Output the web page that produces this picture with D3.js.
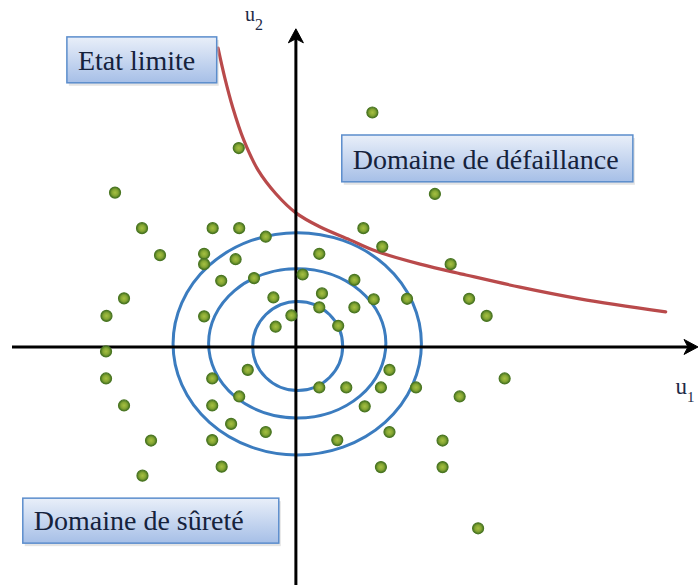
<!DOCTYPE html>
<html>
<head>
<meta charset="utf-8">
<script src="https://cdn.jsdelivr.net/npm/d3@7"></script>
<style>
    body { margin: 0; background: #fff; }
    svg { display: block; }
</style>
</head>
<body>
<div id="chart"></div>
<script>
///// DONNÉES (espace normé u1, u2) /////
let dotU1 = [1.70, -1.27, 3.09, -4.02, -3.42, -1.85, -1.26, 1.50, -0.67, -3.02,
    -2.04, -2.04, -1.34, 0.52, 1.92, 3.44, 0.15, -0.93, 1.30, -1.66,
    -3.82, -0.50, 0.58, 1.73, 2.47, 3.85, -4.21, -2.04, -0.10, 0.52,
    1.30, 4.24, -0.45, 0.94, -4.22, -4.22, -1.86, -1.07, 0.52, 1.12,
    1.89, 2.08, 2.67, 4.64, -3.82, -1.86, -1.26, 1.53, 3.64, -3.22,
    -1.86, -1.44, -0.67, 0.92, 2.08, 3.26, -3.41, -1.65, 1.89, 3.26, 4.05];
let dotU2 = [5.21, 4.42, 3.40, 3.43, 2.64, 2.64, 2.64, 2.64, 2.45, 2.04,
    2.07, 1.84, 1.95, 2.07, 2.23, 1.84, 1.61, 1.53, 1.49, 1.47,
    1.08, 1.10, 1.19, 1.06, 1.07, 1.07, 0.69, 0.68, 0.70, 0.88,
    0.88, 0.69, 0.45, 0.47, -0.10, -0.70, -0.70, -0.51, -0.90, -0.90,
    -0.90, -0.51, -0.90, -0.70, -1.30, -1.30, -1.10, -1.32, -1.10, -2.08,
    -2.07, -1.71, -1.89, -2.07, -1.89, -2.08, -2.86, -2.66, -2.67, -2.67, -4.03];

//Etat limite G(u) = 0
let limitU1 = [-1.73, -1.58, -1.40, -1.16, -0.84, -0.44, 0, 0.53, 1.20, 1.78, 2.76, 3.78, 4.98, 6.31, 8.22];
let limitU2 = [6.64, 5.98, 5.31, 4.60, 3.93, 3.40, 2.98, 2.67, 2.38, 2.13, 1.84, 1.60, 1.33, 1.07, 0.78];

//Cercles d'iso-densité
let ringCx = [0.04, 0.03, 0.03];
let ringCy = [0.02, 0.08, 0.07];
let ringRx = [1.00, 1.97, 2.76];
let ringRy = [0.99, 1.66, 2.47];

//Étiquettes (boîtes en coordonnées u)
let noteText = ['Etat limite', 'Domaine de défaillance', 'Domaine de sûreté'];
let noteU1 = [[-5.09, -1.76], [1.02, 7.49], [-6.07, -0.38]];
let noteU2 = [[6.89, 5.87], [4.71, 3.67], [-3.36, -4.36]];

///// GRÁFICO /////
let width = 699, height = 585;

let svg = d3.select('#chart')
    .append('svg')
    .attr('width', width)
    .attr('height', height);

let x_c = d3.scaleLinear().domain([-6.31, 8.96]).range([12, 699]);
let y_c = d3.scaleLinear().domain([-5.29, 7.71]).range([585, 0]);

let defs = svg.append('defs');
let grad = defs.append('linearGradient')
    .attr('id', 'boxGrad')
    .attr('x1', 0).attr('y1', 0).attr('x2', 0).attr('y2', 1);
grad.append('stop').attr('offset', '0%').attr('stop-color', '#e9eff9');
grad.append('stop').attr('offset', '100%').attr('stop-color', '#a6bfe7');

let dotGrad = defs.append('radialGradient').attr('id', 'dotGrad');
dotGrad.append('stop').attr('offset', '0%').attr('stop-color', '#a6c042');
dotGrad.append('stop').attr('offset', '55%').attr('stop-color', '#86a733');
dotGrad.append('stop').attr('offset', '100%').attr('stop-color', '#4b7622');

//Cercles
svg.append('g')
    .selectAll('ellipse')
    .data(ringRx)
    .enter()
    .append('ellipse')
    .attr('cx', function(d, i) { return x_c(ringCx[i]); })
    .attr('cy', function(d, i) { return y_c(ringCy[i]); })
    .attr('rx', function(d) { return x_c(d) - x_c(0); })
    .attr('ry', function(d, i) { return y_c(0) - y_c(ringRy[i]); })
    .attr('fill', 'none')
    .attr('stroke', '#3b7cbf')
    .attr('stroke-width', 3);

//Etat limite
let limitLine = d3.line()
    .x(function(d) { return x_c(d[0]); })
    .y(function(d) { return y_c(d[1]); })
    .curve(d3.curveCatmullRom.alpha(0.5));

svg.append('path')
    .datum(d3.zip(limitU1, limitU2))
    .attr('d', limitLine)
    .attr('fill', 'none')
    .attr('stroke', '#b94a4b')
    .attr('stroke-width', 3.2)
    .attr('stroke-linecap', 'round');

//Ejes
let x0 = x_c(0), y0 = y_c(0);
let xEnd = x_c(8.96), yEnd = y_c(7.07);
let axes = svg.append('g');

axes.append('line')
    .attr('x1', x_c(-6.31)).attr('x2', xEnd - 6)
    .attr('y1', y0).attr('y2', y0)
    .attr('stroke', '#000').attr('stroke-width', 3);

axes.append('line')
    .attr('x1', x0).attr('x2', x0)
    .attr('y1', y_c(-5.29)).attr('y2', yEnd + 6)
    .attr('stroke', '#000').attr('stroke-width', 3);

function arrowHead(tx, ty, angle) {
    axes.append('path')
        .attr('d', 'M0,0 L-14,-7.5 L-10,0 L-14,7.5 Z')
        .attr('transform', 'translate(' + tx + ',' + ty + ') rotate(' + angle + ')')
        .attr('fill', '#000')
        .attr('stroke', '#000')
        .attr('stroke-width', 1)
        .attr('stroke-linejoin', 'round');
}
arrowHead(xEnd - 1, y0, 0);
arrowHead(x0, yEnd, -90);

//Etiquetas de ejes
let u2Label = svg.append('text')
    .attr('x', x0 - 51).attr('y', y_c(7.24))
    .attr('font-family', 'Liberation Serif, serif')
    .attr('font-size', 20)
    .attr('fill', '#1d2a46');
u2Label.append('tspan').text('u');
u2Label.append('tspan').attr('dy', 9).attr('font-size', 16).text('2');

let u1Label = svg.append('text')
    .attr('x', x_c(8.44)).attr('y', y0 + 47)
    .attr('font-family', 'Liberation Serif, serif')
    .attr('font-size', 23)
    .attr('fill', '#1d2a46');
u1Label.append('tspan').text('u');
u1Label.append('tspan').attr('dy', 8).attr('font-size', 15).text('1');

//Puntos
svg.append('g')
    .selectAll('circle')
    .data(d3.zip(dotU1, dotU2))
    .enter()
    .append('circle')
    .attr('cx', function(d) { return x_c(d[0]); })
    .attr('cy', function(d) { return y_c(d[1]); })
    .attr('r', 5.5)
    .attr('fill', 'url(#dotGrad)')
    .attr('stroke', '#4a7622')
    .attr('stroke-width', 1.2);

//Cajas de texto
let notes = svg.append('g')
    .selectAll('g')
    .data(noteText)
    .enter()
    .append('g');

notes.append('rect')
    .attr('x', function(d, i) { return x_c(noteU1[i][0]) + 2; })
    .attr('y', function(d, i) { return y_c(noteU2[i][0]) + 3; })
    .attr('width', function(d, i) { return x_c(noteU1[i][1]) - x_c(noteU1[i][0]); })
    .attr('height', function(d, i) { return y_c(noteU2[i][1]) - y_c(noteU2[i][0]); })
    .attr('fill', '#c9c9c9')
    .attr('opacity', 0.5);

notes.append('rect')
    .attr('x', function(d, i) { return x_c(noteU1[i][0]); })
    .attr('y', function(d, i) { return y_c(noteU2[i][0]); })
    .attr('width', function(d, i) { return x_c(noteU1[i][1]) - x_c(noteU1[i][0]); })
    .attr('height', function(d, i) { return y_c(noteU2[i][1]) - y_c(noteU2[i][0]); })
    .attr('fill', 'url(#boxGrad)')
    .attr('stroke', '#5b8dcc')
    .attr('stroke-width', 1.5);

notes.append('text')
    .attr('x', function(d, i) { return x_c(noteU1[i][0]) + 11; })
    .attr('y', function(d, i) { return y_c(noteU2[i][1]) - 13; })
    .attr('font-family', 'Liberation Serif, serif')
    .attr('font-size', 28)
    .attr('fill', '#15223c')
    .text(function(d) { return d; });
</script>
</body>
</html>
